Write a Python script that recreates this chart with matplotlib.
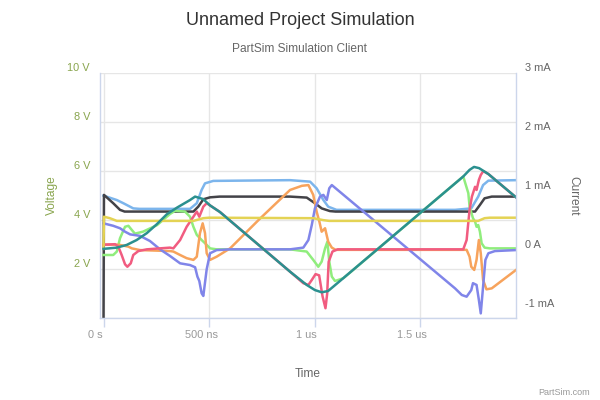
import matplotlib
matplotlib.use("Agg")
import matplotlib.pyplot as plt
from matplotlib.transforms import ScaledTranslation

plt.rcParams['font.family'] = ['Liberation Sans', 'DejaVu Sans']

# time in microseconds, node voltages in volts
blue_t = [0, 0.063, 0.094, 0.141, 0.17, 0.41, 0.442, 0.465, 0.481, 0.52, 0.884, 0.979, 1.010, 1.042, 1.065, 1.104,
          1.666, 1.743, 1.776, 1.799, 1.824, 1.955]
blue_v = [5.0, 4.82, 4.69, 4.48, 4.46, 4.46, 4.69, 5.23, 5.50, 5.60, 5.63, 5.57, 5.30, 4.82, 4.55, 4.42,
          4.42, 4.48, 4.96, 5.43, 5.61, 5.63]

black_t = [0, 0.002, 0.046, 0.078, 0.10, 0.426, 0.449, 0.473, 0.505, 0.55, 0.884, 0.963, 1.002, 1.034, 1.073, 1.10,
           1.761, 1.784, 1.806, 1.840, 1.955]
black_v = [0, 5.03, 4.69, 4.42, 4.35, 4.35, 4.55, 4.85, 4.93, 4.96, 4.96, 4.92, 4.69, 4.48, 4.37, 4.35,
           4.35, 4.62, 4.89, 4.96, 4.96]

green_t = [0, 0.046, 0.063, 0.078, 0.102, 0.118, 0.134, 0.149, 0.187, 0.254, 0.315, 0.339, 0.386, 0.410, 0.426,
           0.442, 0.465, 0.481, 0.505, 0.536, 0.884, 0.963, 0.994, 1.018, 1.034, 1.050, 1.061, 1.070, 1.082, 1.097,
           1.136, 1.168, 1.705, 1.729, 1.735, 1.751, 1.761, 1.768, 1.776, 1.784, 1.792, 1.806, 1.83, 1.955]
green_v = [2.58, 2.58, 2.72, 3.26, 3.73, 3.77, 3.60, 3.45, 3.53, 3.80, 4.25, 4.38, 4.35, 4.14, 3.73,
           3.40, 3.19, 3.06, 2.85, 2.81, 2.81, 2.72, 2.38, 2.10, 2.31, 2.85, 3.12, 2.31, 1.70, 1.52,
           1.63, 1.86, 5.78, 5.10, 4.55, 4.08, 3.94, 3.73, 3.80, 3.53, 3.06, 2.88, 2.85, 2.85]

orange_t = [0, 0.07, 0.078, 0.118, 0.134, 0.173, 0.315, 0.331, 0.363, 0.394, 0.426, 0.442, 0.457, 0.470, 0.481,
            0.489, 0.505, 0.536, 0.600, 0.74, 0.884, 0.94, 0.971, 0.994, 1.010, 1.023, 1.034, 1.050, 1.065, 1.082,
            1.10, 1.721, 1.735, 1.743, 1.757, 1.768, 1.779, 1.788, 1.799, 1.815, 1.840, 1.955]
orange_v = [3.0, 3.0, 2.99, 2.92, 2.85, 2.78, 2.74, 2.72, 2.58, 2.45, 2.38, 2.51, 3.47, 3.87, 3.47,
            2.65, 2.38, 2.51, 2.85, 4.05, 5.23, 5.40, 5.43, 5.03, 4.35, 3.94, 3.53, 3.67, 3.12, 2.88,
            2.79, 2.79, 2.51, 2.10, 1.97, 2.38, 3.19, 2.65, 1.56, 1.18, 1.22, 1.97]

purple_t = [0, 0.046, 0.078, 0.102, 0.126, 0.173, 0.22, 0.268, 0.315, 0.363, 0.410, 0.434, 0.445, 0.454, 0.465,
            0.473, 0.489, 0.505, 0.536, 0.60, 0.884, 0.947, 0.971, 0.987, 1.002, 1.026, 1.042, 1.058, 1.070, 1.082,
            1.666, 1.698, 1.721, 1.743, 1.751, 1.768, 1.779, 1.788, 1.799, 1.810, 1.824, 1.855, 1.955]
purple_v = [3.87, 3.77, 3.67, 3.53, 3.42, 3.36, 3.15, 2.81, 2.54, 2.24, 2.17, 2.08, 1.70, 1.52, 1.02,
            0.91, 2.0, 2.65, 2.78, 2.81, 2.81, 2.88, 3.19, 3.80, 4.48, 4.96, 5.03, 4.82, 5.30, 5.43,
            1.22, 0.95, 0.88, 1.15, 1.43, 1.36, 0.75, 0.20, 1.29, 2.38, 2.65, 2.74, 2.78]

pink_t = [0, 0.055, 0.070, 0.086, 0.102, 0.113, 0.129, 0.141, 0.165, 0.205, 0.315, 0.331, 0.363, 0.394, 0.426,
          0.442, 0.454, 0.473, 0.489, 0.505, 0.552, 0.884, 0.947, 0.971, 0.987, 1.005, 1.022, 1.038, 1.052, 1.060,
          1.067, 1.085, 1.11, 1.705, 1.721, 1.727, 1.735, 1.746, 1.761, 1.768, 1.779, 1.788, 1.80, 1.824, 1.955]
pink_v = [3.0, 3.02, 2.92, 2.58, 2.20, 2.10, 2.24, 2.58, 2.74, 2.81, 2.88, 2.85, 3.19, 3.73, 4.14,
          4.35, 4.14, 4.55, 4.69, 4.60, 4.33, 1.90, 1.43, 1.36, 1.56, 1.80, 1.75, 0.90, 0.41, 1.0,
          2.3, 2.72, 2.81, 2.81, 3.19, 3.73, 4.42, 4.96, 5.36, 5.23, 5.64, 5.84, 6.0, 5.88, 4.93]

yellow_t = [0, 0.002, 0.03, 0.063, 0.426, 0.473, 0.50, 0.994, 1.042, 1.07, 1.776, 1.806, 1.83, 1.955]
yellow_v = [2.83, 4.14, 4.08, 3.97, 3.97, 4.08, 4.10, 4.08, 4.00, 3.97, 3.97, 4.08, 4.10, 4.10]

teal_t = [0, 0.063, 0.110, 0.157, 0.205, 0.252, 0.300, 0.35, 0.41, 0.434, 0.472, 0.505, 0.552, 0.884, 0.963,
          1.002, 1.034, 1.064, 1.089, 1.705, 1.735, 1.756, 1.78, 1.824, 1.955]
teal_v = [2.83, 2.88, 2.99, 3.19, 3.47, 3.83, 4.24, 4.52, 4.82, 4.96, 4.86, 4.60, 4.33, 1.90, 1.36,
          1.15, 1.06, 1.11, 1.29, 5.78, 6.05, 6.17, 6.12, 5.88, 4.93]

x_ticks = [0, 0.5, 1, 1.5]
x_labels = ['0 s', '500 ns', '1 us', '1.5 us']
v_ticks = [0, 2, 4, 6, 8, 10]
v_labels = ['', '2 V', '4 V', '6 V', '8 V', '10 V']
i_ticks = [-1, 0, 1, 2, 3]
i_labels = ['-1 mA', '0 A', '1 mA', '2 mA', '3 mA']

series = [
    (blue_t, blue_v, '#7cb5ec'),
    (black_t, black_v, '#434348'),
    (green_t, green_v, '#90ed7d'),
    (orange_t, orange_v, '#f7a35c'),
    (purple_t, purple_v, '#8085e9'),
    (pink_t, pink_v, '#f15c80'),
    (yellow_t, yellow_v, '#e4d354'),
    (teal_t, teal_v, '#2b908f'),
]

fig = plt.figure(figsize=(6, 4), dpi=100)
ax = fig.add_axes([0.1667, 0.2043, 0.6933, 0.6133])

for t, v, c in series:
    ax.plot(t, v, color=c, lw=1.8, solid_joinstyle='round')

ax.set_xlim(-0.0166, 1.955)
ax.set_ylim(0, 10)
ax.set_xticks(x_ticks)
ax.set_xticklabels(x_labels)
ax.set_yticks(v_ticks)
ax.set_yticklabels(v_labels, va='bottom')
ax.grid(True, color='#e6e6e6', lw=1)
ax.set_axisbelow(True)
ax.tick_params(axis='x', length=6.5, width=1, color='#ccd6eb', labelcolor='#999999', labelsize=7.9, pad=2)
ax.tick_params(axis='y', length=0, labelcolor='#89a54e', labelsize=7.9, pad=7.2)
for lbl in ax.get_xticklabels():
    lbl.set_transform(lbl.get_transform() + ScaledTranslation(-0.08, 0, fig.dpi_scale_trans))
ax.spines['top'].set_visible(False)
for s in ['left', 'bottom', 'right']:
    ax.spines[s].set_color('#ccd6eb')
    ax.spines[s].set_linewidth(1)

ax2 = ax.twinx()
ax2.set_ylim(-1.155, 3)
ax2.set_yticks(i_ticks)
ax2.set_yticklabels(i_labels, va='bottom')
ax2.tick_params(axis='y', length=0, labelcolor='#666666', labelsize=7.9, pad=6.5)
for s in ax2.spines.values():
    s.set_visible(False)

fig.text(0.5, 1 - 25 / 400, 'Unnamed Project Simulation', ha='center', va='baseline', fontsize=13, color='#333333')
fig.text(0.5, 1 - 51.7 / 400, 'PartSim Simulation Client', ha='center', va='baseline', fontsize=8.6, color='#666666')
fig.text(307.5 / 600, 1 - 377 / 400, 'Time', ha='center', va='baseline', fontsize=8.6, color='#666666')
fig.text(52 / 600, 1 - 195.5 / 400, 'Voltage', rotation=90, ha='center', va='center', fontsize=8.6, color='#89a54e')
fig.text(573 / 600, 1 - 196 / 400, 'Current', rotation=270, ha='center', va='center', fontsize=8.6, color='#666666')
fig.text(590 / 600, 1 - 395 / 400, 'PartSim.com', ha='right', va='baseline', fontsize=6.5, color='#999999')

fig.savefig('out.png', dpi=100)
